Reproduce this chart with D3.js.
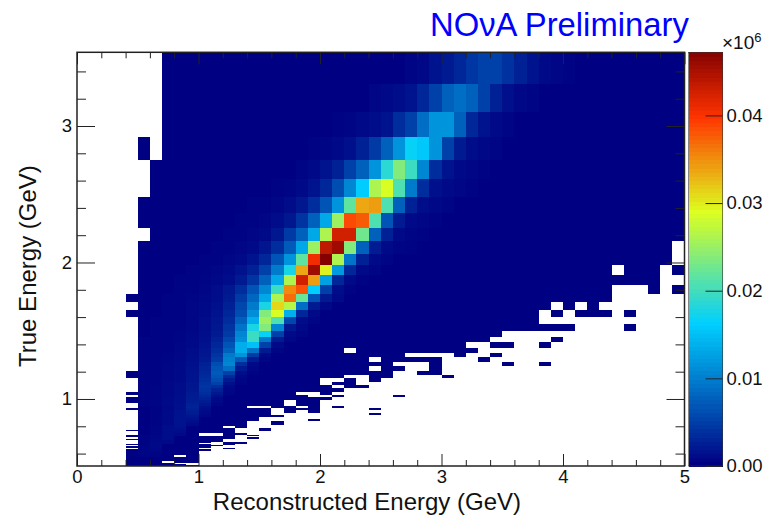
<html>
<head>
    <script src="https://d3js.org/d3.v7.min.js" charset="utf-8"></script>
    <style>
        body { margin: 0; background: #fff; }
        svg { display: block; }
        text { font-family: "Liberation Sans", Arial, sans-serif; fill: #111; }
    </style>
</head>
<body>
    <script>
        var xTicks = [0, 1, 2, 3, 4, 5];
        var xMinorTicks = [0.2, 0.4, 0.6, 0.8, 1.2, 1.4, 1.6, 1.8, 2.2, 2.4, 2.6, 2.8, 3.2, 3.4, 3.6, 3.8, 4.2, 4.4, 4.6, 4.8];
        var yTicks = [1, 2, 3];
        var yMinorTicks = [0.6, 0.8, 1.2, 1.4, 1.6, 1.8, 2.2, 2.4, 2.6, 2.8, 3.2, 3.4];
        var zTicks = [0, 0.01, 0.02, 0.03, 0.04];

        var binWidth = 0.1; // reconstructed energy bins, GeV

        var trueEdges = [3.54, 3.306, 3.099, 2.916, 2.754, 2.609, 2.478, 2.360, 2.253, 2.155,
            2.065, 1.982, 1.906, 1.835, 1.770, 1.709, 1.652, 1.598, 1.548, 1.501,
            1.457, 1.415, 1.376, 1.339, 1.304, 1.270, 1.238, 1.208, 1.179, 1.152,
            1.126, 1.101, 1.077, 1.054, 1.032, 1.011, .991, .971, .952, .934,
            .917, .900, .884, .869, .854, .839, .825, .812, .799, .786,
            .774, .762, .750, .739, .728, .718, .707, .698, .688, .678,
            .669, .660, .652, .643, .635, .627, .619, .611, .604, .597,
            .590, .583, .576, .569, .563, .556, .550, .544, .538, .532,
            .527, .521, .516, .509];

        // filled bin ranges per row (first, last); anything else stays white
        var rowFilled = [
            [[7,49]], [[7,49]], [[7,49]], [[5,5],[7,49]], [[6,49]], [[6,49]], [[5,49]], [[5,49]], [[6,49]], [[5,48]],
            [[5,48]], [[5,43],[45,47],[49,49]], [[5,47]], [[5,43],[47,47],[49,49]], [[4,43]],
            [[5,38],[40,40],[42,42]], [[4,37],[39,39],[41,43],[45,45]], [[5,37]], [[5,40],[45,45]], [[5,34]],
            [[5,33],[39,39]], [[5,31],[34,35],[38,38]], [[5,21],[23,32]], [[5,26],[31,31],[34,34]], [[5,23],[25,29],[33,33]],
            [[5,25],[29,29],[35,35],[38,38]], [[5,23],[25,26],[29,29]], [[4,25],[28,29]], [[4,21],[24,25],[30,30]], [[5,19],[22,22],[24,24]],
            [[5,19],[21,22]], [[5,20],[22,23]], [[5,21]], [[4,17],[20,20]], [[5,18],[21,21],[26,26]],
            [[4,20]], [[4,16],[18,19]], [[5,16],[18,19]], [[5,13],[16,17],[19,19],[21,21]], [[4,15],[17,19],[24,24]],
            [[5,15],[17,17],[19,19]], [[5,15],[24,24]], [[5,16]], [[5,14]], [[5,14],[19,19]],
            [[5,13],[16,16]], [[5,13],[16,16]], [[5,13]], [[5,11],[13,13]], [[5,12],[15,15]],
            [[4,12],[15,15]], [[5,12]], [[5,9],[12,13]], [[4,9],[12,12],[14,14]], [[4,12]],
            [[5,12],[14,14]], [[4,11]], [[5,11]], [[5,10],[12,13]], [[5,9],[12,13]],
            [[4,10],[12,12]], [[5,11]], [[4,10]], [[5,9],[12,12]], [[4,10]],
            [[4,10]], [[4,9]], [[4,9]], [[4,9]], [[4,9]],
            [[4,7],[9,9]], [[4,7],[9,9]], [[4,9]], [[4,9]], [[4,9]],
            [[4,9]], [[4,9]], [[4,6],[8,9]], [[4,6],[8,9]], [[4,7]],
            [[4,7]], [[4,8]], [[4,9]]
        ];

        // first bin of each row's readable values
        var rowStart = [27, 24, 21, 19, 18, 16, 14, 13, 12, 11,
            10, 9, 8, 8, 7, 7, 7, 6, 6, 6,
            5, 5, 4, 5, 5, 5, 5, 5, 5, 5,
            5, 5, 5, 5, 5, 5, 5, 5, 6, 6,
            6, 6, 6, 6, 6, 6, 6, 6, 6, 6,
            6, 6, 6, 5, 5, 5, 5, 5, 5, 5,
            5, 5, 5, 5, 5, 5, 5, 4, 4, 4,
            4, 4];

        // readable values per row, in units of 0.001 on the colour bar
        var rowValues = [
            [.4, .6, 1.5, 2, 3, 4.2, 5, 5, 3.8, 2.5, 1.5, .7, .5, .2],
            [.5, .8, 1, 1.5, 3, 5, 7.5, 8.5, 7.5, 5, 2.5, 1.2, .6, .4],
            [.3, .4, .7, 1, 1.5, 3.5, 5, 8.5, 11.5, 11.5, 7.5, 3, 1.5, .7, .4],
            [.2, .4, .7, 1.2, 2.5, 4.5, 7.5, 11.5, 16.5, 15.5, 11.5, 5, 2, 1, .6, .4],
            [.4, .7, 1.5, 2.5, 5, 7.5, 11.5, 18.5, 23.5, 19.5, 10.5, 3.5, 1.5, .8, .5, .3],
            [.2, .4, .8, 1.5, 3, 6, 10.5, 15.8, 26, 28.5, 20.5, 9.5, 3.5, 1.2, .8, .5, .3],
            [.2, .3, .5, .9, 1.8, 3.5, 6.5, 11.5, 21.5, 33.5, 34, 20.5, 7.5, 2.5, 1, .6, .4],
            [.2, .3, .5, .9, 1.8, 4, 7.5, 13, 25, 38.5, 37.5, 20.5, 6.5, 2, .8, .5, .3],
            [.2, .3, .5, .8, 1.8, 4.5, 7.5, 13, 26, 42.5, 42.5, 22.5, 7.5, 2.5, .8, .4, .3],
            [.2, .3, .5, .7, 1.6, 3.5, 7, 13, 25, 43.5, 45.5, 23.5, 7.5, 2.2, .8, .4, .2],
            [.2, .3, .5, .7, 1.5, 3, 6.5, 11.5, 21.5, 40.5, 47, 26, 9, 2.5, .8, .4],
            [.2, .3, .5, .7, 1.4, 2.5, 5, 9.5, 17.5, 33.5, 45.5, 29.5, 12, 3, .8, .4],
            [.2, .3, .4, .6, 1, 2, 4, 7.5, 13, 26, 42.5, 34, 12.5, 3, .8, .3],
            [.2, .3, .5, .9, 1.8, 3.5, 6.5, 10.5, 19.5, 35, 38, 16, 5, 1, .3],
            [.2, .3, .4, .6, 1, 2, 4.5, 8, 13, 26, 36.5, 22, 6.5, 2, .7],
            [.2, .3, .5, .7, 1.2, 2.5, 5.5, 9.5, 17.5, 31, 26.5, 8.5, 2, .6],
            [.2, .3, .5, .8, 1.4, 3, 6, 11, 23.5, 28.5, 13.5, 3, .8],
            [.2, .2, .3, .5, .9, 1.6, 3.5, 7.5, 13.5, 25, 20.5, 5.5, 1, .4],
            [.2, .3, .3, .5, 1, 1.8, 4, 9, 17.5, 23.5, 10.5, 1.8, .6],
            [.2, .3, .4, .6, 1.1, 2, 4.5, 10.5, 19.5, 16.5, 5, .8, .4],
            [.2, .2, .3, .4, .7, 1.2, 2.5, 5.5, 11, 19.5, 9.5, 2, .5],
            [.2, .2, .3, .5, .8, 1.4, 3, 6.5, 13.5, 15, 5, .8],
            [.1, .2, .2, .3, .5, .9, 1.6, 3.5, 7.5, 13.5, 9, 2, .4],
            [.2, .3, .4, .6, 1, 1.8, 4, 9.5, 11.5, 4.5, .8],
            [.2, .3, .4, .6, 1.1, 2, 4.5, 10, 7, 2, .4],
            [.2, .3, .4, .7, 1.2, 2.5, 6, 10.5, 3.5, .8],
            [.2, .3, .5, .7, 1.3, 2.8, 6.5, 8.5, 2, .5],
            [.2, .3, .5, .8, 1.4, 3, 7, 5, 1, .3],
            [.2, .3, .5, .8, 1.4, 3.2, 6.5, 3.2, .6],
            [.2, .3, .5, .8, 1.5, 3.5, 6, 2, .4],
            [.2, .3, .6, .9, 1.6, 3.8, 5, 1.2, .3],
            [.2, .4, .6, .9, 1.7, 4, 3.5, .8],
            [.2, .4, .6, 1, 1.8, 3.8, 2.5, .5],
            [.2, .4, .6, 1, 2, 3.5, 1.8, .4],
            [.2, .4, .6, 1.1, 2, 3, 1.2],
            [.2, .4, .7, 1.1, 2.2, 2.6, .8],
            [.2, .4, .7, 1.1, 2.3, 2.2, .6],
            [.2, .4, .7, 1.2, 2.5, 1.6, .4],
            [.3, .6, 1.2, 2.7, 1.2],
            [.3, .6, 1.2, 2.5, .9],
            [.3, .7, 1.4, 2.2, .7],
            [.3, .7, 1.4, 2, .6],
            [.3, .7, 1.5, 1.7, .5],
            [.3, .7, 1.5, 1.4],
            [.3, .7, 1.5, 1.2],
            [.3, .8, 1.5, 1],
            [.3, .8, 1.5, .8],
            [.4, .9, 1.4, .7],
            [.4, .9, 1.3],
            [.4, 1, 1.2],
            [.4, 1, 1],
            [.4, 1, .9],
            [.4, 1, .8],
            [.2, .5, 1, .7],
            [.2, .5, 1],
            [.2, .5, 1],
            [.3, .6, .9],
            [.3, .6, .8],
            [.3, .7, .7],
            [.3, .7, .6],
            [.3, .7],
            [.3, .7],
            [.4, .7],
            [.4, .6],
            [.4, .6],
            [.4, .5],
            [.4, .4],
            [.1, .4, .4],
            [.1, .4, .3],
            [.1, .4, .3],
            [.1, .3, .2],
            [.1, .3, .2]
        ];

        var width = 770;
        var height = 515;
        var plotLeft = 77, plotRight = 684.5, plotTop = 52.3, plotBottom = 466;
        var barLeft = 688.5, barRight = 722.5;

        var x = d3.scaleLinear().domain([0, 5]).range([plotLeft, plotRight]);
        var y = d3.scaleLinear().domain([0.509, 3.54]).range([plotBottom, plotTop]);
        var z = d3.scaleLinear().domain([0, 0.0472]).range([plotBottom, plotTop]);

        // ROOT rainbow palette stops
        var color = d3.scaleLinear()
            .domain([0, 0.34, 0.61, 0.84, 1].map(function (d) { return d * 0.0472; }))
            .range(["rgb(0,0,130)", "rgb(0,207,255)", "rgb(222,255,31)", "rgb(255,51,0)", "rgb(130,0,0)"]);

        var svg = d3.select("body").append("svg").attr("width", width).attr("height", height);

        // turn the rows into one list of cells
        var cells = [];
        rowFilled.forEach(function (ranges, r) {
            ranges.forEach(function (range) {
                d3.range(range[0], range[1] + 1).forEach(function (bin) {
                    var vals = rowValues[r] || [];
                    var v = vals[bin - rowStart[r]];
                    cells.push({ bin: bin, row: r, value: (v === undefined ? 0 : v) / 1000 });
                });
            });
        });

        // draw the cells
        svg.append("g").attr("shape-rendering", "crispEdges").selectAll("rect")
            .data(cells).enter().append("rect")
            .attr("x", function (d) { return x(d.bin * binWidth); })
            .attr("width", function (d) { return x(binWidth) - x(0); })
            .attr("y", function (d) { return y(trueEdges[d.row]); })
            .attr("height", function (d) { return y(trueEdges[d.row + 1]) - y(trueEdges[d.row]); })
            .attr("fill", function (d) { return color(d.value); });

        // colour bar
        var levels = d3.range(0, 0.0472, 0.0472 / 100);
        svg.append("g").attr("shape-rendering", "crispEdges").selectAll("rect")
            .data(levels).enter().append("rect")
            .attr("x", barLeft)
            .attr("width", barRight - barLeft)
            .attr("y", function (d) { return z(d + 0.0472 / 100); })
            .attr("height", function (d) { return z(d) - z(d + 0.0472 / 100) + 0.5; })
            .attr("fill", function (d) { return color(d); });

        function style(g) {
            g.selectAll(".domain").remove();
            g.selectAll("line").attr("stroke", "#222").attr("stroke-width", 1);
            g.selectAll("text").attr("font-size", "18.5px").attr("fill", "#111");
        }

        // x axis with ticks on both sides
        svg.append("g").attr("transform", "translate(0," + plotBottom + ")")
            .call(d3.axisBottom(x).tickValues(xTicks).tickFormat(d3.format("d")).tickSizeInner(-12).tickPadding(4))
            .call(style);
        svg.append("g").attr("transform", "translate(0," + plotBottom + ")")
            .call(d3.axisBottom(x).tickValues(xMinorTicks).tickFormat("").tickSizeInner(-6))
            .call(style);
        svg.append("g").attr("transform", "translate(0," + plotTop + ")")
            .call(d3.axisTop(x).tickValues(xTicks).tickFormat("").tickSizeInner(-12))
            .call(style);
        svg.append("g").attr("transform", "translate(0," + plotTop + ")")
            .call(d3.axisTop(x).tickValues(xMinorTicks).tickFormat("").tickSizeInner(-6))
            .call(style);

        // y axis with ticks on both sides
        svg.append("g").attr("transform", "translate(" + plotLeft + ",0)")
            .call(d3.axisLeft(y).tickValues(yTicks).tickFormat(d3.format("d")).tickSizeInner(-18).tickPadding(5))
            .call(style);
        svg.append("g").attr("transform", "translate(" + plotLeft + ",0)")
            .call(d3.axisLeft(y).tickValues(yMinorTicks).tickFormat("").tickSizeInner(-9))
            .call(style);
        svg.append("g").attr("transform", "translate(" + plotRight + ",0)")
            .call(d3.axisRight(y).tickValues(yTicks).tickFormat("").tickSizeInner(-18))
            .call(style);
        svg.append("g").attr("transform", "translate(" + plotRight + ",0)")
            .call(d3.axisRight(y).tickValues(yMinorTicks).tickFormat("").tickSizeInner(-9))
            .call(style);

        // colour bar axis
        svg.append("g").attr("transform", "translate(" + barRight + ",0)")
            .call(d3.axisRight(z).tickValues(zTicks).tickFormat(d3.format(".2f")).tickSizeInner(-17).tickPadding(4))
            .call(style);

        // frames
        svg.append("rect").attr("x", plotLeft).attr("y", plotTop).attr("width", plotRight - plotLeft).attr("height", plotBottom - plotTop)
            .attr("fill", "none").attr("stroke", "#222").attr("stroke-width", 1.5);
        svg.append("rect").attr("x", barLeft).attr("y", plotTop).attr("width", barRight - barLeft).attr("height", plotBottom - plotTop)
            .attr("fill", "none").attr("stroke", "#333").attr("stroke-width", 0.6);

        // titles
        svg.append("text").text("Reconstructed Energy (GeV)")
            .attr("x", 521).attr("y", 510).attr("text-anchor", "end").attr("font-size", "24px");
        svg.append("text").text("True Energy (GeV)")
            .attr("transform", "translate(36,367) rotate(-90)").attr("font-size", "24px");
        svg.append("text").text("NOνA Preliminary")
            .attr("x", 430).attr("y", 35.5).attr("font-size", "32.8px").style("fill", "#0000ff");

        var power = svg.append("text").attr("x", 722).attr("y", 49).attr("font-size", "19px");
        power.append("tspan").text("×10");
        power.append("tspan").text("6").attr("font-size", "13px").attr("dy", -7);
    </script>
</body>
</html>
